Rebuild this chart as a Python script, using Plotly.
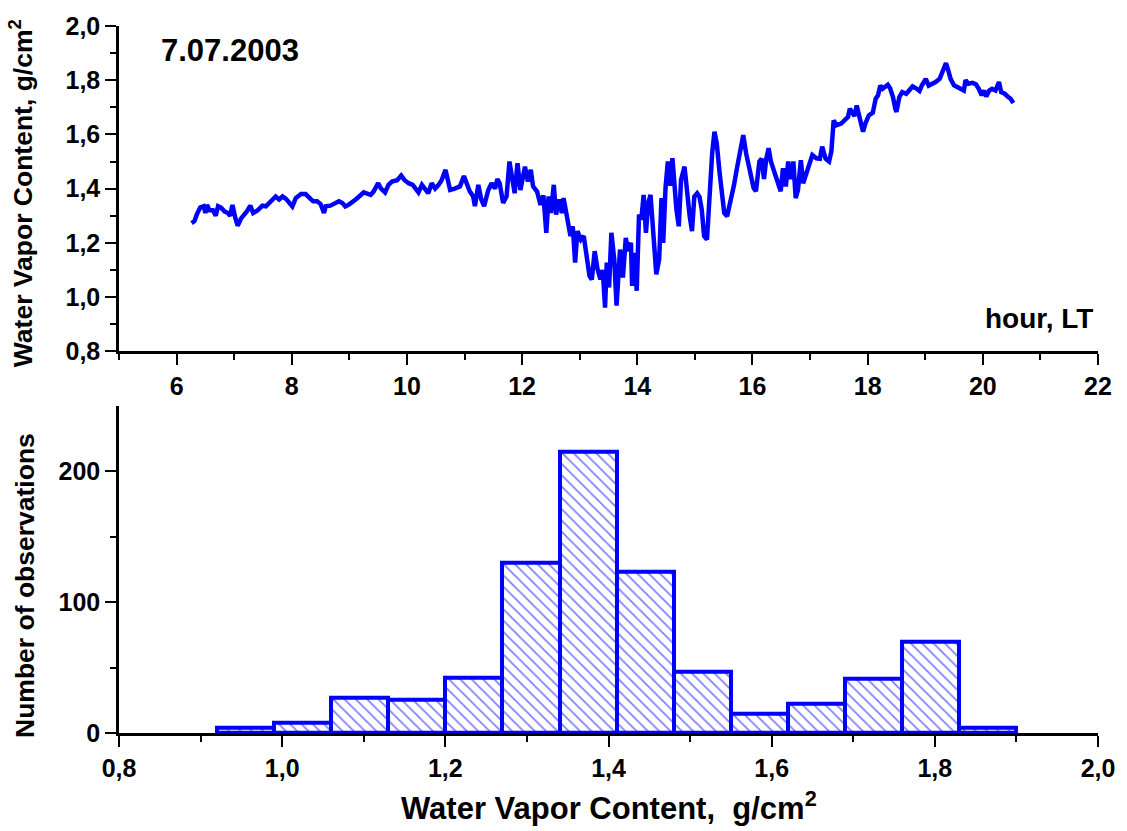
import plotly.graph_objects as go

# ---- time series (hour LT, water vapor content g/cm2) ----
hours = [6.26, 6.31, 6.35, 6.41, 6.47, 6.50, 6.53, 6.57, 6.63, 6.68, 6.72, 6.77, 6.83, 6.89, 6.93, 6.97,
         7.02, 7.06, 7.12, 7.18, 7.22, 7.28, 7.33, 7.41, 7.49, 7.55, 7.64, 7.72, 7.78, 7.84, 7.90, 7.95,
         8.01, 8.07, 8.16, 8.24, 8.30, 8.37, 8.44, 8.50, 8.56, 8.59, 8.67, 8.76, 8.82, 8.88, 8.93, 8.99,
         9.05, 9.11, 9.16, 9.25, 9.37, 9.42, 9.50, 9.55, 9.62, 9.68, 9.74, 9.83, 9.90, 9.96,
         10.03, 10.10, 10.15, 10.20, 10.26, 10.32, 10.37, 10.43, 10.49, 10.55, 10.60, 10.67, 10.72, 10.75,
         10.83, 10.92, 10.99, 11.04, 11.09, 11.15, 11.18, 11.24, 11.29, 11.34, 11.41, 11.47, 11.53, 11.57,
         11.61, 11.67, 11.73, 11.78, 11.87, 11.92, 11.97, 12.05, 12.10, 12.15, 12.19, 12.26, 12.32, 12.37,
         12.42, 12.46, 12.50, 12.55, 12.59, 12.64, 12.69, 12.72, 12.78, 12.84, 12.88, 12.92, 12.96, 13.02,
         13.07, 13.11, 13.17, 13.21, 13.26, 13.31, 13.36, 13.40, 13.44, 13.47, 13.51, 13.55, 13.60, 13.64,
         13.70, 13.75, 13.80, 13.84, 13.89, 13.91, 13.95, 13.99, 14.03, 14.07, 14.11, 14.15, 14.19, 14.23,
         14.28, 14.33, 14.38, 14.42, 14.45, 14.49, 14.53, 14.57, 14.61, 14.65, 14.68, 14.72, 14.76, 14.82,
         14.86, 14.91, 14.95, 14.99, 15.04, 15.08, 15.12, 15.16, 15.21, 15.26, 15.30, 15.34, 15.38, 15.43,
         15.47, 15.51, 15.56, 15.60, 15.64, 15.68, 15.73, 15.79, 15.84, 15.89, 15.93, 15.97, 16.02, 16.06,
         16.12, 16.16, 16.20, 16.24, 16.28, 16.32, 16.39, 16.45, 16.49, 16.53, 16.58, 16.62, 16.67, 16.71,
         16.75, 16.79, 16.84, 16.88, 16.94, 16.99, 17.04, 17.11, 17.17, 17.21, 17.27, 17.33, 17.37, 17.41,
         17.46, 17.54, 17.60, 17.66, 17.69, 17.73, 17.77, 17.81, 17.86, 17.92, 17.96, 18.02, 18.09, 18.14,
         18.18, 18.22, 18.26, 18.31, 18.35, 18.39, 18.44, 18.48, 18.50, 18.55, 18.60, 18.67, 18.72, 18.78,
         18.84, 18.90, 18.94, 19.01, 19.06, 19.13, 19.18, 19.25, 19.30, 19.36, 19.40, 19.44, 19.50, 19.56,
         19.62, 19.67, 19.70, 19.75, 19.82, 19.88, 19.93, 19.98, 20.02, 20.06, 20.11, 20.16, 20.22, 20.28,
         20.32, 20.38, 20.44, 20.48, 20.53]

wvc = [1.273, 1.280, 1.304, 1.330, 1.335, 1.310, 1.340, 1.320, 1.320, 1.300, 1.335, 1.330, 1.316, 1.310, 1.300, 1.340,
       1.292, 1.263, 1.290, 1.304, 1.316, 1.337, 1.310, 1.320, 1.337, 1.335, 1.353, 1.371, 1.360, 1.371, 1.362, 1.347,
       1.334, 1.365, 1.380, 1.380, 1.365, 1.353, 1.353, 1.343, 1.310, 1.335, 1.337, 1.345, 1.353, 1.347, 1.334, 1.341,
       1.353, 1.360, 1.369, 1.386, 1.377, 1.389, 1.420, 1.400, 1.386, 1.414, 1.426, 1.431, 1.448, 1.431,
       1.420, 1.414, 1.400, 1.386, 1.414, 1.400, 1.383, 1.420, 1.400, 1.414, 1.430, 1.469, 1.430, 1.395,
       1.400, 1.408, 1.446, 1.420, 1.390, 1.371, 1.335, 1.414, 1.360, 1.335, 1.393, 1.420, 1.400, 1.435,
       1.420, 1.347, 1.371, 1.500, 1.383, 1.494, 1.395, 1.481, 1.426, 1.469, 1.408, 1.389, 1.340, 1.375,
       1.237, 1.371, 1.310, 1.414, 1.304, 1.360, 1.310, 1.365, 1.304, 1.225, 1.261, 1.127, 1.243, 1.212,
       1.225, 1.163, 1.078, 1.065, 1.169, 1.102, 1.065, 1.100, 0.961, 1.127, 1.035, 1.237, 1.139, 0.968,
       1.175, 1.072, 1.218, 1.169, 1.200, 1.041, 1.163, 1.023, 1.304, 1.285, 1.377, 1.237, 1.347, 1.377,
       1.212, 1.084, 1.139, 1.365, 1.200, 1.402, 1.500, 1.410, 1.512, 1.390, 1.322, 1.261, 1.432, 1.481,
       1.390, 1.298, 1.243, 1.370, 1.383, 1.370, 1.322, 1.225, 1.212, 1.408, 1.530, 1.610, 1.567, 1.457,
       1.360, 1.310, 1.298, 1.334, 1.365, 1.414, 1.475, 1.555, 1.597, 1.530, 1.490, 1.470, 1.402, 1.390,
       1.500, 1.510, 1.435, 1.510, 1.549, 1.500, 1.455, 1.420, 1.390, 1.475, 1.408, 1.500, 1.435, 1.500,
       1.365, 1.395, 1.505, 1.420, 1.457, 1.500, 1.524, 1.512, 1.510, 1.555, 1.510, 1.500, 1.537, 1.652,
       1.634, 1.640, 1.652, 1.665, 1.695, 1.677, 1.668, 1.707, 1.660, 1.610, 1.640, 1.670, 1.680, 1.732,
       1.744, 1.780, 1.768, 1.774, 1.783, 1.770, 1.738, 1.695, 1.683, 1.738, 1.756, 1.750, 1.762, 1.777,
       1.770, 1.760, 1.780, 1.805, 1.780, 1.787, 1.793, 1.805, 1.836, 1.863, 1.836, 1.805, 1.781, 1.774,
       1.768, 1.762, 1.800, 1.787, 1.790, 1.785, 1.768, 1.744, 1.762, 1.740, 1.762, 1.768, 1.762, 1.793,
       1.756, 1.750, 1.738, 1.732, 1.716]

# ---- histogram ----
bin_left = [0.92, 0.99, 1.06, 1.13, 1.20, 1.27, 1.34, 1.41, 1.48, 1.55, 1.62, 1.69, 1.76, 1.83]
bin_width = 0.07
counts = [4, 8, 27, 25, 42, 130, 215, 123, 47, 15, 22, 41, 70, 4]

BLUE = "#0000FF"
FONT = "Liberation Sans, Arial, sans-serif"

fig = go.Figure()

fig.add_trace(go.Scatter(
    x=hours, y=wvc, mode="lines",
    line=dict(color=BLUE, width=4.5, shape="linear"),
    xaxis="x", yaxis="y", showlegend=False,
))

fig.add_trace(go.Bar(
    x=bin_left, y=counts, width=[bin_width] * len(bin_left), offset=0,
    marker=dict(
        color="white",
        line=dict(color=BLUE, width=4),
        pattern=dict(shape="\\", fgcolor=BLUE, bgcolor="white", size=8, solidity=0.22),
    ),
    xaxis="x2", yaxis="y2", showlegend=False,
))

tickfont = dict(family=FONT, size=25, color="black", weight="bold")
axis_common = dict(
    showline=True, linecolor="black", linewidth=2.5, mirror=False,
    showgrid=False, zeroline=False, ticks="outside", ticklen=11, tickwidth=2,
    tickcolor="black", tickfont=tickfont,
)

fig.update_layout(
    width=1127, height=831,
    margin=dict(l=119, r=24, t=22, b=98),
    paper_bgcolor="white", plot_bgcolor="white",
    separators=",.",
    bargap=0,
    xaxis=dict(domain=[0, 1], anchor="y", range=[5, 22], tick0=6, dtick=2,
               minor=dict(ticks="outside", ticklen=6, tickwidth=2, tickcolor="black", dtick=1, tick0=5),
               **axis_common),
    yaxis=dict(domain=[0.540, 1], anchor="x", range=[0.8, 2.0], tick0=0.8, dtick=0.2, tickformat=".1f",
               minor=dict(ticks="outside", ticklen=6, tickwidth=2, tickcolor="black", dtick=0.1, tick0=0.8),
               **axis_common),
    xaxis2=dict(domain=[0, 1], anchor="y2", range=[0.8, 2.0], tick0=0.8, dtick=0.2, tickformat=".1f",
                minor=dict(ticks="outside", ticklen=6, tickwidth=2, tickcolor="black", dtick=0.1, tick0=0.8),
                **axis_common),
    yaxis2=dict(domain=[0, 0.4627], anchor="x2", range=[0, 250], tickvals=[0, 100, 200],
                minor=dict(ticks="outside", ticklen=6, tickwidth=2, tickcolor="black", tickvals=[50, 150]),
                **axis_common),
)

def ann(text, x, y, size, angle=0, xanchor="center", yanchor="middle"):
    fig.add_annotation(text=text, x=x, y=y, xref="paper", yref="paper", showarrow=False,
                       textangle=angle, xanchor=xanchor, yanchor=yanchor,
                       font=dict(family=FONT, size=size, color="black", weight="bold"))

ann("Water Vapor Content, g/cm<sup>2</sup>", -0.1, 0.7637, 26.5, angle=-90)
ann("Number of observations", -0.096, 0.208, 26.5, angle=-90)
ann("Water Vapor Content,  g/cm<sup>2</sup>", 0.501, -0.103, 31)
ann("7.07.2003", 0.1138, 0.966, 31)
ann("hour, LT", 0.997, 0.5865, 28, xanchor="right")

fig.write_html("out.html")
